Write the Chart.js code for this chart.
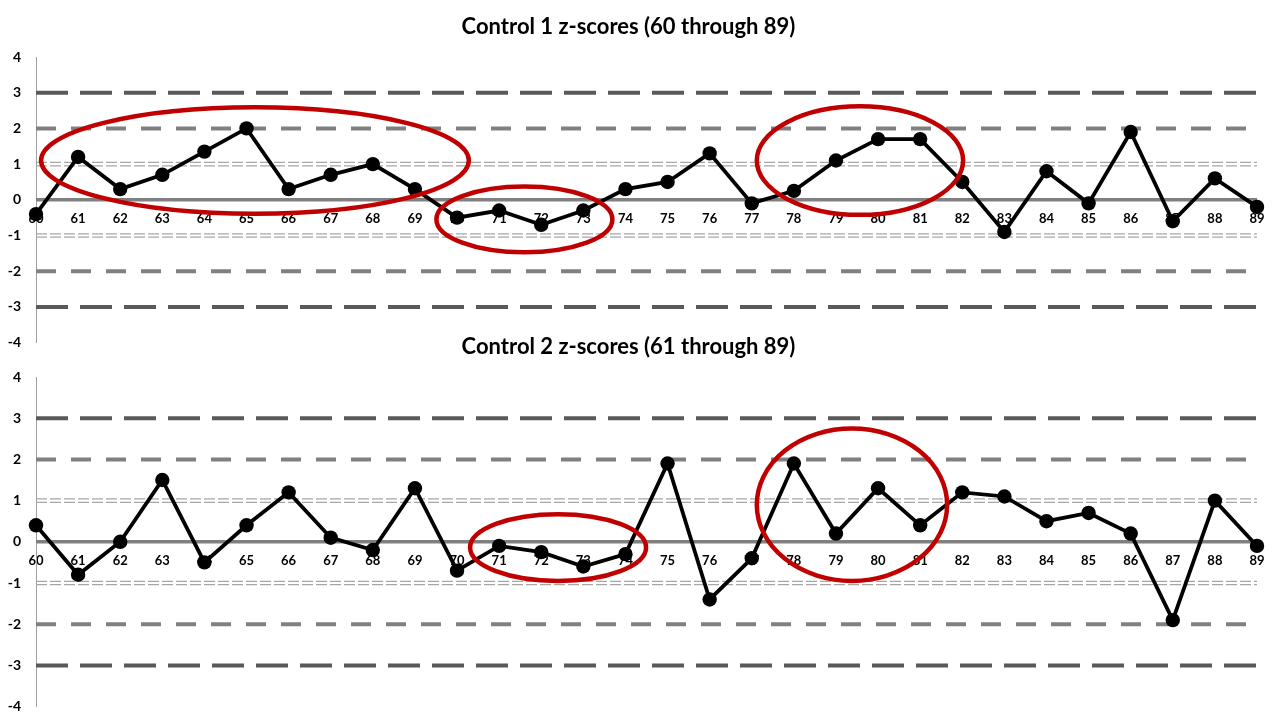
<!DOCTYPE html>
<html lang="en">
<head>
    <meta charset="UTF-8">
    <title>Control z-scores</title>
    <script src="https://cdn.jsdelivr.net/npm/chart.js"></script>
    <style>
        body {
            margin: 0;
            background: #ffffff;
            width: 1280px;
            height: 720px;
            overflow: hidden;
            position: relative;
        }
        canvas {
            position: absolute;
            left: 0;
        }
        #chart1 { top: 0; }
        #chart2 { top: 320px; }
    </style>
</head>
<body>
    <canvas id="chart1" width="1280" height="366"></canvas>
    <canvas id="chart2" width="1280" height="410"></canvas>
    <script>
        // run numbers on the x axis
        var categories = ['60', '61', '62', '63', '64', '65', '66', '67', '68', '69',
                          '70', '71', '72', '73', '74', '75', '76', '77', '78', '79',
                          '80', '81', '82', '83', '84', '85', '86', '87', '88', '89'];

        var control1 = [-0.4, 1.2, 0.3, 0.7, 1.35, 2.0, 0.3, 0.7, 1.0, 0.3,
                        -0.5, -0.3, -0.7, -0.3, 0.3, 0.5, 1.3, -0.1, 0.25, 1.1,
                        1.7, 1.7, 0.5, -0.9, 0.8, -0.1, 1.9, -0.6, 0.6, -0.2];

        var control2 = [0.4, -0.8, 0.0, 1.5, -0.5, 0.4, 1.2, 0.1, -0.2, 1.3,
                        -0.7, -0.1, -0.25, -0.6, -0.3, 1.9, -1.4, -0.4, 1.9, 0.2,
                        1.3, 0.4, 1.2, 1.1, 0.5, 0.7, 0.2, -1.9, 1.0, -0.1];

        var yTicks = [-4, -3, -2, -1, 0, 1, 2, 3, 4];

        // red rings: centre run / z, half width in runs, half height in z
        var rings1 = [
            { run: 65.2, z: 1.1, runs: 5.08, zs: 1.49 },
            { run: 71.6, z: -0.55, runs: 2.09, zs: 0.92 },
            { run: 79.57, z: 1.1, runs: 2.45, zs: 1.52 }
        ];
        var rings2 = [
            { run: 72.4, z: -0.14, runs: 2.09, zs: 0.81 },
            { run: 79.38, z: 0.9, runs: 2.26, zs: 1.85 }
        ];

        var FONT = 'Lato, "Open Sans", sans-serif';

        function hline(ctx, area, y, color, width, dash) {
            ctx.save();
            ctx.strokeStyle = color;
            ctx.lineWidth = width;
            ctx.setLineDash(dash);
            ctx.beginPath();
            ctx.moveTo(area.left, y);
            ctx.lineTo(area.right, y);
            ctx.stroke();
            ctx.restore();
        }

        var limitLines = {
            id: 'limitLines',
            beforeDatasetsDraw: function(chart) {
                var ctx = chart.ctx, area = chart.chartArea, ys = chart.scales.y;
                [3, -3].forEach(function(v) {
                    hline(ctx, area, ys.getPixelForValue(v), '#595959', 4, [32, 12]);
                });
                [2, -2].forEach(function(v) {
                    hline(ctx, area, ys.getPixelForValue(v), '#808080', 4, [20, 15]);
                });
                [1, -1].forEach(function(v) {
                    var p = ys.getPixelForValue(v);
                    hline(ctx, area, p - 1.7, '#a6a6a6', 1.3, [11, 3]);
                    hline(ctx, area, p + 1.7, '#a6a6a6', 1.3, [11, 3]);
                });
                hline(ctx, area, ys.getPixelForValue(0), '#808080', 3.5, []);
            }
        };

        var ringPlugin = {
            id: 'rings',
            afterDatasetsDraw: function(chart, args, opts) {
                var ctx = chart.ctx, xs = chart.scales.x, ys = chart.scales.y;
                var first = Number(categories[0]);
                (opts.list || []).forEach(function(r) {
                    var cx = xs.getPixelForValue(r.run - first);
                    var rx = xs.getPixelForValue(r.run - first + r.runs) - cx;
                    var cy = ys.getPixelForValue(r.z);
                    var ry = cy - ys.getPixelForValue(r.z + r.zs);
                    ctx.save();
                    ctx.strokeStyle = '#c00000';
                    ctx.lineWidth = 4.5;
                    ctx.beginPath();
                    ctx.ellipse(cx, cy, rx, ry, 0, 0, Math.PI * 2);
                    ctx.stroke();
                    ctx.restore();
                });
            }
        };

        function makeChart(id, title, values, rings, bottomPad) {
            return new Chart(document.getElementById(id), {
                type: 'line',
                data: {
                    labels: categories,
                    datasets: [{
                        data: values,
                        borderColor: '#000000',
                        borderWidth: 3.8,
                        backgroundColor: '#000000',
                        pointRadius: 7.2,
                        pointBorderWidth: 0,
                        pointBackgroundColor: '#000000',
                        tension: 0,
                        clip: false
                    }]
                },
                options: {
                    responsive: false,
                    animation: false,
                    layout: { padding: { left: 0, right: 23, top: 0, bottom: bottomPad } },
                    plugins: {
                        legend: { display: false },
                        tooltip: { enabled: false },
                        title: {
                            display: true,
                            text: title,
                            color: '#000000',
                            font: { family: FONT, size: 22, weight: 'bold' },
                            padding: { top: 13.8, bottom: 16.8 }
                        },
                        rings: { list: rings }
                    },
                    scales: {
                        x: {
                            position: { y: 0 },
                            grid: { display: false, drawTicks: false },
                            border: { display: false },
                            ticks: {
                                color: '#000000',
                                padding: 11,
                                maxRotation: 0,
                                autoSkip: false,
                                font: { family: FONT, size: 13, weight: 'bold' }
                            }
                        },
                        y: {
                            min: yTicks[0],
                            max: yTicks[yTicks.length - 1],
                            afterFit: function(scale) { scale.width = 36; },
                            afterBuildTicks: function(scale) {
                                scale.ticks = yTicks.map(function(v) { return { value: v }; });
                            },
                            grid: { display: false, drawTicks: false },
                            border: { display: true, color: '#a0a0a0', width: 1 },
                            ticks: {
                                color: '#000000',
                                padding: 15,
                                font: { family: FONT, size: 14, weight: 'bold' }
                            }
                        }
                    }
                },
                plugins: [limitLines, ringPlugin]
            });
        }

        makeChart('chart1', 'Control 1 z-scores (60 through 89)', control1, rings1, 9);
        makeChart('chart2', 'Control 2 z-scores (61 through 89)', control2, rings2, 7);
    </script>
</body>
</html>
